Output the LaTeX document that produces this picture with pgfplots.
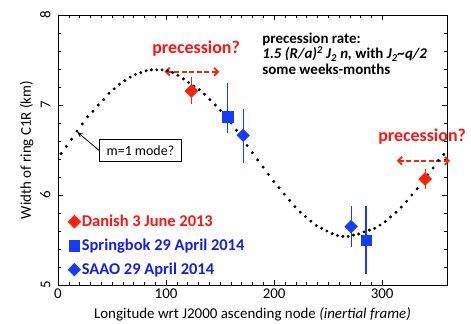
\documentclass[border=0pt]{standalone}
\usepackage{fontspec}
\setmainfont{Carlito}
\usepackage{pgfplots}
\pgfplotsset{compat=1.18}
\usetikzlibrary{arrows.meta}
\definecolor{myred}{RGB}{250,35,10}
\definecolor{txtred}{RGB}{255,20,20}
\definecolor{myblue}{RGB}{20,60,250}
\definecolor{txtblue}{RGB}{20,30,230}
\pgfplotstableread{
x y
2.8 6.46
7.7 6.54
12.6 6.62
17.6 6.71
22.5 6.79
27.4 6.87
32.3 6.93
37.2 7.00
42.2 7.06
47.1 7.13
52.0 7.18
56.9 7.23
61.8 7.27
66.8 7.31
71.7 7.34
76.6 7.36
81.5 7.38
86.4 7.39
91.4 7.39
96.3 7.39
101.2 7.38
106.1 7.36
111.0 7.33
116.0 7.29
120.9 7.25
125.8 7.21
130.7 7.17
135.6 7.12
140.6 7.06
145.5 7.00
150.4 6.94
155.3 6.87
160.2 6.80
165.2 6.72
170.1 6.64
175.0 6.55
179.9 6.47
184.8 6.39
189.8 6.31
194.7 6.23
199.6 6.15
204.5 6.08
209.4 6.01
214.4 5.94
219.3 5.87
224.2 5.81
229.1 5.76
234.0 5.71
239.0 5.66
243.9 5.63
248.8 5.60
253.7 5.57
258.6 5.55
263.6 5.54
268.5 5.54
273.4 5.555
278.3 5.567
283.2 5.59
288.2 5.61
293.1 5.63
298.0 5.665
302.9 5.705
307.8 5.756
312.8 5.808
317.7 5.866
322.6 5.93
327.5 6.00
332.4 6.07
337.4 6.15
342.3 6.225
347.2 6.30
352.1 6.385
357.0 6.45
}\curvetable
\begin{document}
\begin{tikzpicture}
\begin{axis}[
  scale only axis, width=389bp, height=270bp,
  xmin=0, xmax=360, ymin=5, ymax=8,
  xtick={0,100,200,300}, ytick={5,6,7,8},
  minor x tick num=9, minor y tick num=4,
  tick align=inside, major tick length=5pt, minor tick length=3pt,
  tick style={black, thin},
  /pgf/number format/assume math mode=true,
  ticklabel style={font=\fontsize{15}{18}\selectfont},
  yticklabel style={rotate=90, anchor=south},
  yticklabel shift=4pt,
  xlabel={Longitude wrt J2000 ascending node \textit{(inertial frame)}},
  ylabel={Width of ring C1R (km)},
  xlabel style={yshift=-2pt},
  label style={font=\fontsize{15}{18}\selectfont},
  clip=false,
  legend style={at={(axis cs:9,5.085)}, anchor=south west, draw=none, fill=none,
    font=\fontsize{16.5}{19}\selectfont\bfseries, row sep=9pt, inner sep=0pt,
    nodes={inner sep=1pt}},
  legend cell align=left,
]
\addplot[only marks, mark=*, mark size=1.3pt, black, forget plot] table {\curvetable};

\addplot[only marks, myred, mark=square*, mark size=4.6pt, mark options={rotate=45, fill=myred, draw=myred},
  error bars/.cd, y dir=both, y explicit, error mark=none,
  error bar style={line width=1.3pt, myred}]
  table[x=x, y=y, y error plus=ep, y error minus=em] {
x y ep em
123.5 7.156 0.15 0.14
339.8 6.178 0.11 0.11
};
\addlegendentry{\textcolor{txtred}{Danish 3 June 2013}}

\addplot[only marks, myblue, mark=square*, mark size=5.3pt, mark options={fill=myblue, draw=myblue},
  error bars/.cd, y dir=both, y explicit, error mark=none,
  error bar style={line width=1.3pt, myblue}]
  table[x=x, y=y, y error plus=ep, y error minus=em] {
x y ep em
157.0 6.87 0.377 0.185
285.1 5.50 0.378 0.381
};
\addlegendentry{\textcolor{txtblue}{Springbok 29 April 2014}}

\addplot[only marks, myblue, mark=square*, mark size=4.5pt, mark options={rotate=45, fill=myblue, draw=myblue},
  error bars/.cd, y dir=both, y explicit, error mark=none,
  error bar style={line width=1.3pt, myblue}]
  table[x=x, y=y, y error plus=ep, y error minus=em] {
x y ep em
171.4 6.663 0.29 0.31
271.3 5.648 0.23 0.23
};
\addlegendentry{\textcolor{txtblue}{SAAO 29 April 2014}}

\node[txtred, font=\fontsize{18}{21}\selectfont\bfseries] at (axis cs:127.8,7.63) {precession?};
\node[txtred, font=\fontsize{18}{21}\selectfont\bfseries] at (axis cs:337,6.65) {precession?};
\draw[myred, line width=1.8pt, dash pattern=on 5pt off 2.5pt, {Straight Barb[length=4pt,width=8pt]}-{Straight Barb[length=4pt,width=8pt]}]
  (axis cs:98.6,7.37) -- (axis cs:149.3,7.37);
\draw[myred, line width=1.8pt, dash pattern=on 5pt off 2.5pt, {Straight Barb[length=4pt,width=8pt]}-{Straight Barb[length=4pt,width=8pt]}]
  (axis cs:313.6,6.38) -- (axis cs:362.8,6.38);
\node[anchor=north west, align=left, inner sep=0pt, font=\fontsize{15}{15.3}\selectfont\bfseries] at (axis cs:189,7.80)
  {precession rate:\\ \textit{1.5 (R/a)\textsuperscript{2} J\textsubscript{2} n,} with \textit{J\textsubscript{2}\textasciitilde q/2}\\ some weeks-months};
\node[draw=black, fill=white, thin, font=\fontsize{14}{16}\selectfont, inner sep=3pt, minimum width=82bp, minimum height=22bp] (box) at (axis cs:76.3,6.494) {m=1 mode?};
\draw[-{Stealth[length=6pt,width=5pt]}, thick] (box.west) -- (axis cs:17.8,6.70);
\end{axis}
\pgfresetboundingbox
\path (current axis.south west) ++(-58bp,-39bp) rectangle ++(471bp,324bp);
\end{tikzpicture}
\end{document}
